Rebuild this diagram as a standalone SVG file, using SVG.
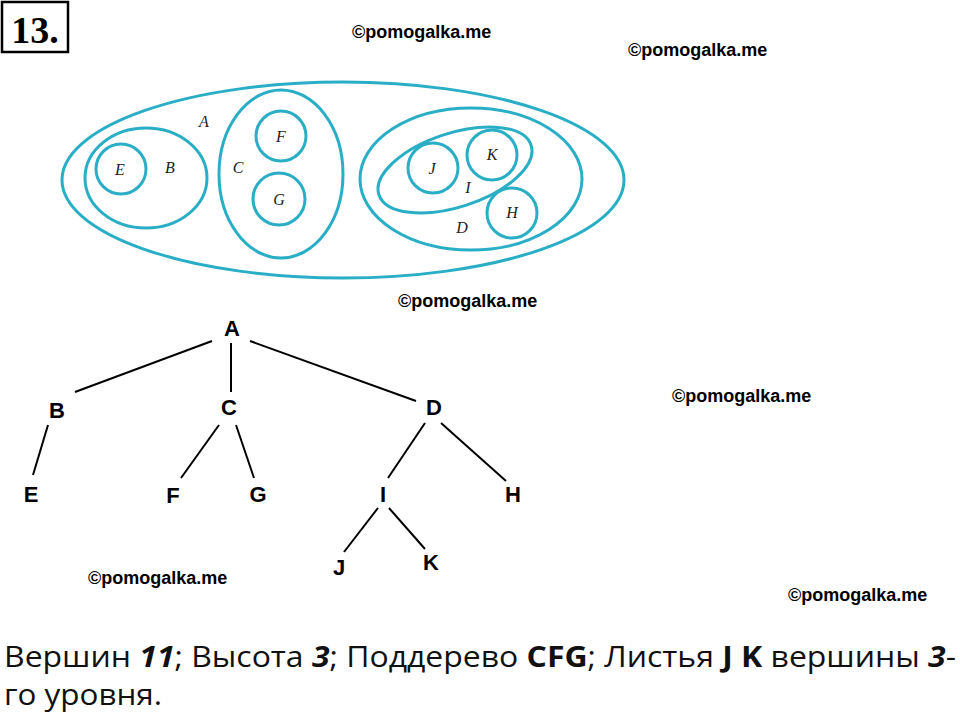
<svg xmlns="http://www.w3.org/2000/svg" width="960" height="718" viewBox="0 0 960 718">
<style>
.e{fill:none;stroke:#29aec6;stroke-width:3}
.s{font-family:"Liberation Serif",serif;font-style:italic;font-size:16px;fill:#222;text-anchor:middle}
.t{font-family:"Liberation Sans",sans-serif;font-weight:bold;font-size:22px;fill:#000;text-anchor:middle}
.w{font-family:"Liberation Sans",sans-serif;font-weight:bold;font-size:18px;fill:#000}
.l{stroke:#000;stroke-width:2}
.b{font-family:"Open Sans",sans-serif;font-size:29px;fill:#111}
</style>
<rect x="2" y="2" width="66" height="50" fill="#fff" stroke="#000" stroke-width="2.5"/>
<text x="35" y="43" font-family="Liberation Serif,serif" font-weight="bold" font-size="38" text-anchor="middle">13.</text>
<text class="w" x="352" y="38">©pomogalka.me</text>
<text class="w" x="628" y="56">©pomogalka.me</text>
<text class="w" x="398" y="307">©pomogalka.me</text>
<text class="w" x="672" y="402">©pomogalka.me</text>
<text class="w" x="88" y="584">©pomogalka.me</text>
<text class="w" x="788" y="601">©pomogalka.me</text>
<g id="euler">
<ellipse class="e" cx="343" cy="180" rx="281" ry="98"/>
<ellipse class="e" cx="146" cy="178" rx="61" ry="50"/>
<circle class="e" cx="121" cy="169" r="25"/>
<ellipse class="e" cx="281" cy="174" rx="62" ry="84"/>
<circle class="e" cx="281" cy="136" r="25"/>
<circle class="e" cx="279" cy="199" r="26"/>
<ellipse class="e" cx="471" cy="179" rx="111" ry="71"/>
<ellipse class="e" cx="455" cy="170" rx="80" ry="37" transform="rotate(-18 455 170)"/>
<circle class="e" cx="433" cy="168" r="25"/>
<circle class="e" cx="492" cy="155" r="25"/>
<circle class="e" cx="512" cy="213" r="25"/>
<text class="s" x="204" y="127">A</text><text class="s" x="170" y="173">B</text>
<text class="s" x="238" y="173">C</text><text class="s" x="120" y="175">E</text>
<text class="s" x="281" y="142">F</text><text class="s" x="279" y="205">G</text>
<text class="s" x="432" y="174">J</text><text class="s" x="492" y="160">K</text>
<text class="s" x="468" y="193">I</text><text class="s" x="512" y="218">H</text>
<text class="s" x="462" y="233">D</text>
</g>
<g id="edges">
<line class="l" x1="212" y1="341" x2="75" y2="392"/>
<line class="l" x1="231" y1="343" x2="231" y2="392"/>
<line class="l" x1="250" y1="341" x2="416" y2="401"/>
<line class="l" x1="48" y1="425" x2="33" y2="475"/>
<line class="l" x1="219" y1="425" x2="181" y2="478"/>
<line class="l" x1="236" y1="425" x2="254" y2="478"/>
<line class="l" x1="425" y1="423" x2="388" y2="478"/>
<line class="l" x1="441" y1="423" x2="506" y2="481"/>
<line class="l" x1="378" y1="508" x2="344" y2="552"/>
<line class="l" x1="389" y1="508" x2="425" y2="549"/>
</g>
<g id="nA"><text class="t" x="232" y="336">A</text></g>
<g id="nB"><text class="t" x="57" y="418">B</text></g>
<g id="nC"><text class="t" x="229" y="415">C</text></g>
<g id="nD"><text class="t" x="434" y="415">D</text></g>
<g id="nE"><text class="t" x="31" y="502">E</text></g>
<g id="nF"><text class="t" x="173" y="503">F</text></g>
<g id="nG"><text class="t" x="258" y="502">G</text></g>
<g id="nI"><text class="t" x="383" y="502">I</text></g>
<g id="nH"><text class="t" x="513" y="502">H</text></g>
<g id="nJ"><text class="t" x="339" y="575">J</text></g>
<g id="nK"><text class="t" x="431" y="570">K</text></g>
<text class="b" x="4" y="667" textLength="952" lengthAdjust="spacingAndGlyphs">Вершин <tspan font-weight="bold" font-style="italic">11</tspan>; Высота <tspan font-weight="bold" font-style="italic">3</tspan>; Поддерево <tspan font-weight="bold">CFG</tspan>; Листья <tspan font-weight="bold">J K</tspan> вершины <tspan font-weight="bold" font-style="italic">3</tspan>-</text>
<text class="b" x="4" y="705" textLength="158" lengthAdjust="spacingAndGlyphs">го уровня.</text>
</svg>
